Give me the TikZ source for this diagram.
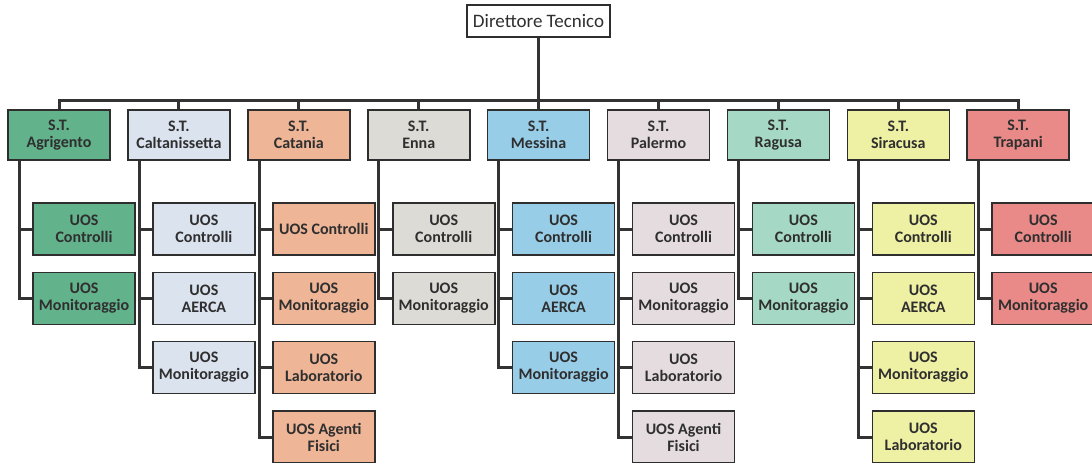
\documentclass[tikz,border=0pt]{standalone}
\usepackage{fontspec}
\setmainfont{Carlito}
\definecolor{boxline}{HTML}{2E2E2E}
\definecolor{linec}{HTML}{333333}
\definecolor{txt}{HTML}{2F2F2F}
\definecolor{cAg}{HTML}{62B28C}
\definecolor{cCl}{HTML}{DBE3EF}
\definecolor{cCt}{HTML}{EFB597}
\definecolor{cEn}{HTML}{DCDBD6}
\definecolor{cMe}{HTML}{98CDE8}
\definecolor{cPa}{HTML}{E5DCDF}
\definecolor{cRa}{HTML}{A5D9C6}
\definecolor{cSr}{HTML}{EEF0A4}
\definecolor{cTp}{HTML}{E98A88}
\tikzset{
  box/.style={draw=boxline, line width=1.6pt, text=txt,
    font=\bfseries\fontsize{16}{17}\selectfont, align=center,
    minimum width=102pt, inner sep=0pt},
  stbox/.style={box, minimum height=50pt},
  uosbox/.style={box, minimum height=52pt},
  conn/.style={draw=linec, line width=3pt, line join=miter},
}
\begin{document}
\begin{tikzpicture}[x=1pt,y=-1pt]
\useasboundingbox (0,0) rectangle (1092,463);
\fill[white] (0,0) rectangle (1092,463);

% director
\node[draw=boxline, line width=1.4pt, fill=white, minimum width=143pt,
      minimum height=32pt, inner sep=0pt, text=txt,
      font=\fontsize{19}{20}\selectfont] (dir) at (538.5,21) {Direttore Tecnico};

% S.T. boxes
\node[stbox, fill=cAg] (st1) at (59,135)    {S.T.\\Agrigento};
\node[stbox, fill=cCl] (st2) at (178.9,135) {S.T.\\Caltanissetta};
\node[stbox, fill=cCt] (st3) at (298.8,135) {S.T.\\Catania};
\node[stbox, fill=cEn] (st4) at (418.7,135) {S.T.\\Enna};
\node[stbox, fill=cMe] (st5) at (538.6,135) {S.T.\\Messina};
\node[stbox, fill=cPa] (st6) at (658.5,135) {S.T.\\Palermo};
\node[stbox, fill=cRa] (st7) at (778.4,135) {S.T.\\Ragusa};
\node[stbox, fill=cSr] (st8) at (898.3,135) {S.T.\\Siracusa};
\node[stbox, fill=cTp] (st9) at (1018.2,135) {S.T.\\Trapani};

% UOS boxes (rows at y = 229, 298.5, 367.5, 437)
% Agrigento
\node[uosbox, fill=cAg] (u11) at (84,229)   {UOS\\Controlli};
\node[uosbox, fill=cAg] (u12) at (84,298.5) {UOS\\Monitoraggio};
% Caltanissetta
\node[uosbox, fill=cCl] (u21) at (203.9,229)   {UOS\\Controlli};
\node[uosbox, fill=cCl] (u22) at (203.9,298.5) {UOS\\AERCA};
\node[uosbox, fill=cCl] (u23) at (203.9,367.5) {UOS\\Monitoraggio};
% Catania
\node[uosbox, fill=cCt] (u31) at (323.8,229)   {UOS Controlli};
\node[uosbox, fill=cCt] (u32) at (323.8,298.5) {UOS\\Monitoraggio};
\node[uosbox, fill=cCt] (u33) at (323.8,367.5) {UOS\\Laboratorio};
\node[uosbox, fill=cCt] (u34) at (323.8,437)   {UOS Agenti\\Fisici};
% Enna
\node[uosbox, fill=cEn] (u41) at (443.7,229)   {UOS\\Controlli};
\node[uosbox, fill=cEn] (u42) at (443.7,298.5) {UOS\\Monitoraggio};
% Messina
\node[uosbox, fill=cMe] (u51) at (563.6,229)   {UOS\\Controlli};
\node[uosbox, fill=cMe] (u52) at (563.6,298.5) {UOS\\AERCA};
\node[uosbox, fill=cMe] (u53) at (563.6,367.5) {UOS\\Monitoraggio};
% Palermo
\node[uosbox, fill=cPa] (u61) at (683.5,229)   {UOS\\Controlli};
\node[uosbox, fill=cPa] (u62) at (683.5,298.5) {UOS\\Monitoraggio};
\node[uosbox, fill=cPa] (u63) at (683.5,367.5) {UOS\\Laboratorio};
\node[uosbox, fill=cPa] (u64) at (683.5,437)   {UOS Agenti\\Fisici};
% Ragusa
\node[uosbox, fill=cRa] (u71) at (803.4,229)   {UOS\\Controlli};
\node[uosbox, fill=cRa] (u72) at (803.4,298.5) {UOS\\Monitoraggio};
% Siracusa
\node[uosbox, fill=cSr] (u81) at (923.3,229)   {UOS\\Controlli};
\node[uosbox, fill=cSr] (u82) at (923.3,298.5) {UOS\\AERCA};
\node[uosbox, fill=cSr] (u83) at (923.3,367.5) {UOS\\Monitoraggio};
\node[uosbox, fill=cSr] (u84) at (923.3,437)   {UOS\\Laboratorio};
% Trapani
\node[uosbox, fill=cTp] (u91) at (1043.2,229)   {UOS\\Controlli};
\node[uosbox, fill=cTp] (u92) at (1043.2,298.5) {UOS\\Monitoraggio};

% bus
\coordinate (bus) at (538.5,100);
\draw[conn] (dir.south) -- (dir.south |- bus);
\draw[conn] (st1.north) -- (st1.north |- bus) -- (st9.north |- bus) -- (st9.north);
\foreach \i in {2,...,8}{
  \draw[conn] (st\i.north) -- (st\i.north |- bus);
}

% drop lines
\foreach \c/\list in {1/{1,2}, 2/{1,2,3}, 3/{1,2,3,4}, 4/{1,2}, 5/{1,2,3},
                      6/{1,2,3,4}, 7/{1,2}, 8/{1,2,3,4}, 9/{1,2}}{
  \foreach \r in \list{
    \draw[conn] ([xshift=12pt]st\c.south west) |- (u\c\r.west);
  }
}
\end{tikzpicture}
\end{document}
